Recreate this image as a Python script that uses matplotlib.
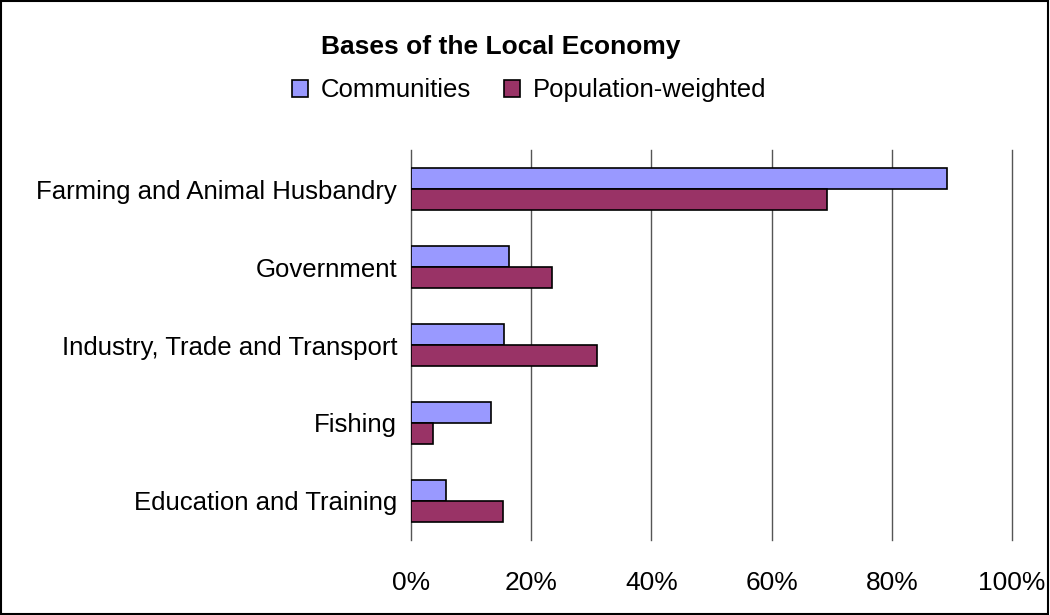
import matplotlib.pyplot as plt
import numpy as np
from matplotlib.patches import Rectangle

plt.rcParams['font.family'] = ['Liberation Sans', 'DejaVu Sans']

categories = ['Farming and Animal Husbandry', 'Government',
              'Industry, Trade and Transport', 'Fishing',
              'Education and Training']
communities = [89.2, 16.3, 15.4, 13.3, 5.9]
pop_weighted = [69.3, 23.4, 30.9, 3.7, 15.3]
xticks = [0, 20, 40, 60, 80, 100]

fig = plt.figure(figsize=(10.5, 6.15), dpi=100)
ax = fig.add_axes([0.3914, 0.122, 0.5724, 0.634])

y = np.arange(len(categories))
h = 0.27
ax.barh(y - h / 2, communities, h, color='#9999FF', edgecolor='black',
        linewidth=1.2, label='Communities', zorder=3)
ax.barh(y + h / 2, pop_weighted, h, color='#993366', edgecolor='black',
        linewidth=1.2, label='Population-weighted', zorder=3)

ax.set_xlim(0, 100)
ax.set_ylim(len(categories) - 0.5, -0.5)
ax.set_xticks(xticks)
ax.set_xticklabels([f'{v}%' for v in xticks], fontsize=19)
ax.set_yticks(y)
ax.set_yticklabels(categories, fontsize=18.5)
ax.tick_params(axis='x', length=0, pad=22)
ax.tick_params(axis='y', length=0, pad=10)
ax.xaxis.grid(True, color='#555555', linewidth=1)
for line in ax.get_xgridlines():
    line.set_clip_on(False)
for s in ax.spines.values():
    s.set_visible(False)

fig.text(0.477, 0.923, 'Bases of the Local Economy', ha='center', va='center',
         fontsize=19, fontweight='bold')
fig.legend(loc='center', bbox_to_anchor=(0.504, 0.853), ncol=2, frameon=False,
           fontsize=18.5, handlelength=0.6, handleheight=0.6, columnspacing=1.3,
           handletextpad=0.5)

fig.patches.append(Rectangle((0.001, 0.001), 0.997, 0.997, transform=fig.transFigure,
                             fill=False, edgecolor='black', linewidth=1.5))

fig.savefig('out.png', dpi=100)
